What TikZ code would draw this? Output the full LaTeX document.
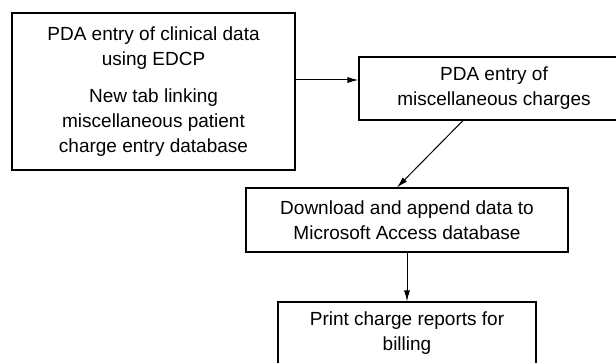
\documentclass[tikz,border=0pt]{standalone}
\usepackage{fontspec}
\setmainfont{Liberation Sans}
\usetikzlibrary{arrows.meta}

\begin{document}
\begin{tikzpicture}[x=1pt, y=-1pt,
    stepbox/.style ={draw, line width=1.1pt, inner sep=0pt, align=center,
      font=\fontsize{19}{25}\selectfont},
    flow/.style ={line width=1pt, -{Latex[length=11pt,width=6pt]}}]
   \useasboundingbox (0,0) rectangle (616,363);

   \node[stepbox, minimum width=283pt, minimum height=157pt] (pda) at (153.5,91.5)
     {PDA entry of clinical data\\using EDCP\\[12pt]New tab linking\\miscellaneous patient\\charge entry database};
   \node[stepbox, minimum width=270pt, minimum height=63pt] (misc) at (494,88.5)
     {PDA entry of\\miscellaneous charges};
   \node[stepbox, minimum width=322pt, minimum height=64pt] (dl) at (407,220)
     {Download and append data to\\Microsoft Access database};
   \node[stepbox, minimum width=258pt, minimum height=62pt] (print) at (407,333)
     {Print charge reports for\\billing};

   \draw[flow] ([yshift=11.5pt]pda.east) to  ([yshift=8.5pt]misc.west);
   \draw[flow] ([xshift=-31pt]misc.south) to  ([xshift=-10pt]dl.north);
   \draw[flow] (dl.south) to  (print.north);
 \end{tikzpicture}
\end{document}
